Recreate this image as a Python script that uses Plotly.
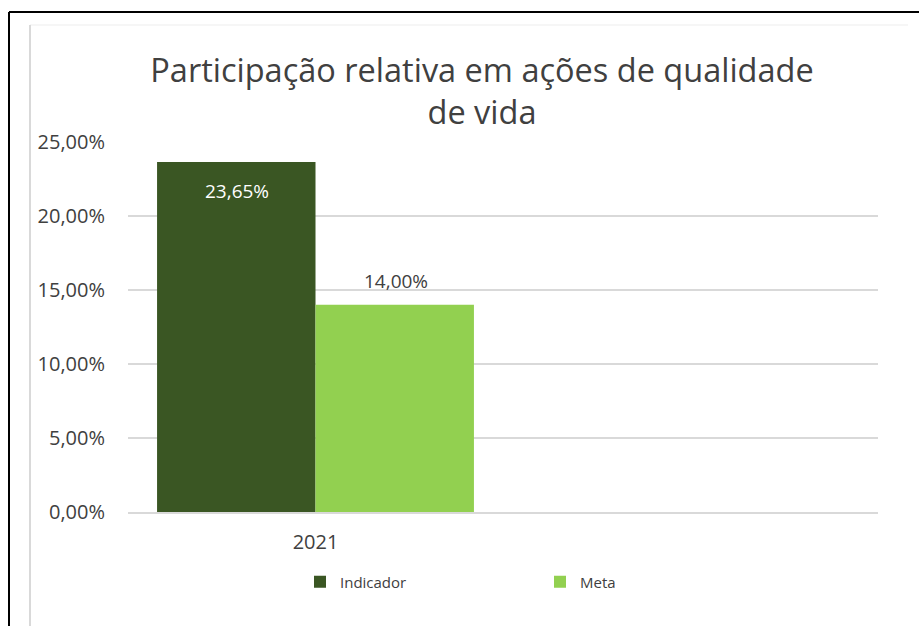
import plotly.graph_objects as go

categories = ["2021"]
indicador = [0.2365]
meta = [0.14]
series_names = ["Indicador", "Meta"]
y_ticks = [0, 0.05, 0.10, 0.15, 0.20, 0.25]
title_text = "Participação relativa em ações de qualidade<br>de vida"

FONT = "Open Sans"
TXT = "#404040"
DARK = "#3A5623"
LIGHT = "#92D050"

fig = go.Figure()
fig.add_trace(go.Bar(
    x=categories, y=indicador, name=series_names[0],
    marker=dict(color=DARK, line=dict(width=0)),
))
fig.add_trace(go.Bar(
    x=categories, y=meta, name=series_names[1],
    marker=dict(color=LIGHT, line=dict(width=0)),
))

def fmt(v):
    return f"{v*100:.2f}%".replace(".", ",")

# data labels placed through the axes (category index + value)
annotations = []
for i, v in enumerate(indicador):
    annotations.append(dict(x=i, y=v, xref="x", yref="y", text=fmt(v),
                            showarrow=False, xshift=-79, yshift=-29, yanchor="middle",
                            font=dict(color="white", size=19, family=FONT)))
for i, v in enumerate(meta):
    annotations.append(dict(x=i, y=v, xref="x", yref="y", text=fmt(v),
                            showarrow=False, xshift=80, yshift=24, yanchor="middle",
                            font=dict(color=TXT, size=19, family=FONT)))

L, R, T, B = 128, 878, 142, 512
W, H = 919, 626
def px(xp):
    return (xp - L) / (R - L)
def py(yp):
    return (B - yp) / (B - T)

shapes = [
    dict(type="line", xref="paper", yref="paper", x0=px(9), x1=px(925), y0=py(12), y1=py(12),
         line=dict(color="black", width=2)),
    dict(type="line", xref="paper", yref="paper", x0=px(9), x1=px(9), y0=py(12), y1=py(640),
         line=dict(color="black", width=2)),
    dict(type="line", xref="paper", yref="paper", x0=px(30), x1=px(908), y0=py(25), y1=py(25),
         line=dict(color="#EDEDED", width=1)),
    dict(type="line", xref="paper", yref="paper", x0=px(30), x1=px(30), y0=py(25), y1=py(640),
         line=dict(color="#D9D9D9", width=2)),
]

fig.update_layout(
    width=W, height=H,
    margin=dict(l=L, r=W - R, t=T, b=H - B),
    paper_bgcolor="white", plot_bgcolor="white",
    separators=",.",
    barmode="group", bargap=0.155, bargroupgap=0,
    title=dict(text=title_text, x=482 / W, xanchor="center", xref="container",
               y=1 - 82 / H, yanchor="top", yref="container",
               font=dict(family=FONT, size=32.5, color=TXT)),
    font=dict(family=FONT, color=TXT),
    xaxis=dict(type="category", range=[-0.5, 1.5], showgrid=False, zeroline=False,
               showline=True, linecolor="#D9D9D9", linewidth=2, ticks="",
               ticklabelstandoff=11,
               tickfont=dict(size=20, color=TXT, family=FONT)),
    yaxis=dict(range=[0, 0.25], tickvals=y_ticks, tickformat=".2%", showgrid=True,
               gridcolor="#D9D9D9", gridwidth=2, zeroline=False, showline=False, ticks="",
               ticklabelstandoff=22,
               tickfont=dict(size=20, color=TXT, family=FONT)),
    legend=dict(orientation="h", x=px(300), xanchor="left", y=py(582), yanchor="middle",
                entrywidth=195, font=dict(size=15, color=TXT, family=FONT),
                itemwidth=30, bgcolor="rgba(0,0,0,0)"),
    annotations=annotations,
    shapes=shapes,
)

fig.write_html("out.html", config={"displayModeBar": False},
               post_script="document.body.style.margin='0';document.body.style.overflow='hidden';")
